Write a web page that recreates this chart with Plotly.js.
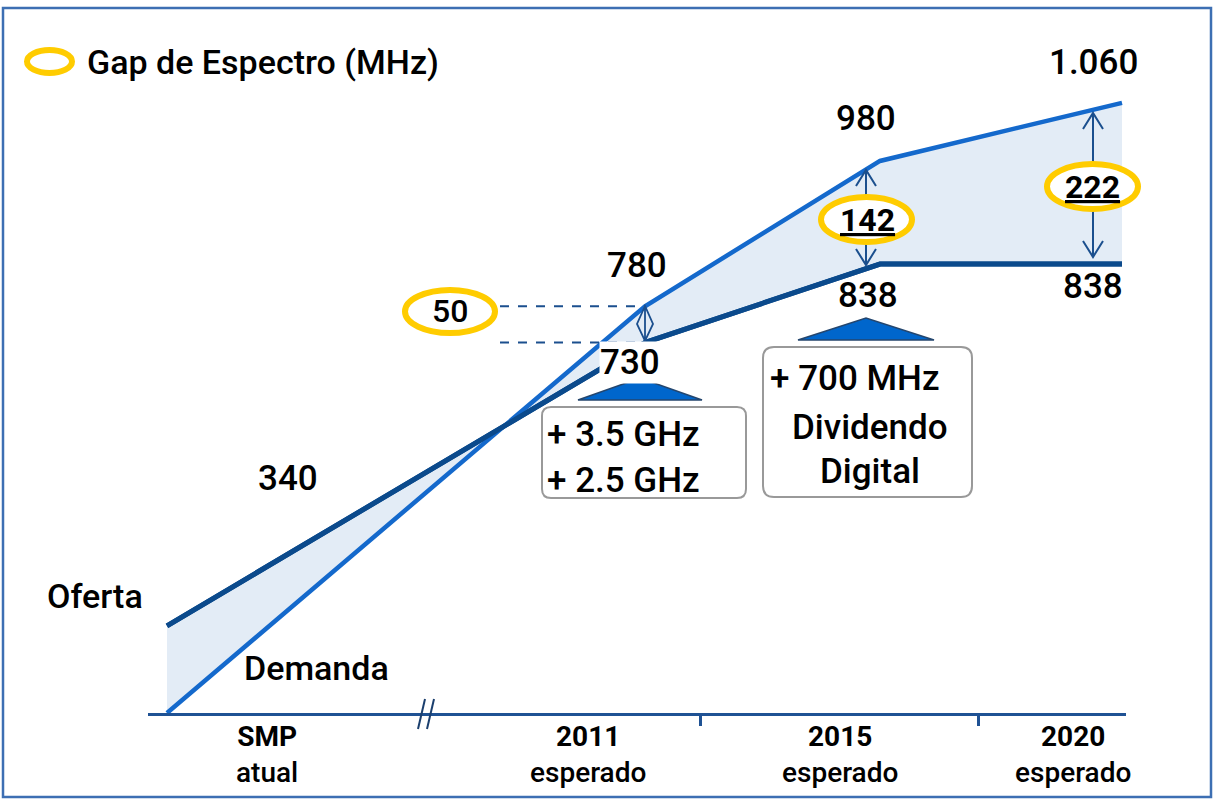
<!DOCTYPE html>
<html>
<head>
<meta charset="utf-8">
<script src="https://cdn.plot.ly/plotly-3.0.1.min.js"></script>
<style>
  body { margin: 0; background: #fff; }
  #chart { width: 1214px; height: 800px; }
</style>
</head>
<body>
<div id="chart"></div>
<script>
// pontos do esquema (posicao no eixo de tempo esquematico)
const periodos = ['SMP', '2011', '2015', '2020'];
const subtitulos = ['atual', 'esperado', 'esperado', 'esperado'];
const periodoX = [0.19, 4.97, 7.32, 9.74];
const rotuloX = [1.19, 4.40, 6.92, 9.25];
const tickX = [5.52, 8.30];
const demanda = [220, 780, 980, 1060];
const oferta = [340, 730, 838, 838];
const faixas2011 = ['+ 3.5 GHz', '+ 2.5 GHz'];
const faixas2015 = ['+ 700 MHz', 'Dividendo', 'Digital'];

const FONTE = 'Roboto, "Liberation Sans", Arial, sans-serif';
const PESO = 500;
const AZUL = '#1469CC', AZUL_ESC = '#0B4A8C', AMARELO = '#FFCC00';

// conversao pixel -> paper (so para enfeites)
const L = 148, R = 88, T = 40, B = 87, W = 1214, H = 800;
const X = px => (px - L) / (W - L - R);
const Y = py => (H - B - py) / (H - T - B);
const P = (px, py) => X(px) + ',' + Y(py);

function fmt(v) {
    return v >= 1000 ? Math.floor(v / 1000) + '.' + String(v % 1000).padStart(3, '0') : String(v);
}

function caixa(x0, y0, x1, y1, r) {
    return 'M' + P(x0 + r, y0) + ' L' + P(x1 - r, y0) + ' Q' + P(x1, y0) + ' ' + P(x1, y0 + r) +
        ' L' + P(x1, y1 - r) + ' Q' + P(x1, y1) + ' ' + P(x1 - r, y1) +
        ' L' + P(x0 + r, y1) + ' Q' + P(x0, y1) + ' ' + P(x0, y1 - r) +
        ' L' + P(x0, y0 + r) + ' Q' + P(x0, y0) + ' ' + P(x0 + r, y0) + ' Z';
}

function txt(text, px, py, size, opts) {
    return Object.assign({
        text: text, xref: 'paper', yref: 'paper', x: X(px), y: Y(py),
        xanchor: 'center', yanchor: 'middle', showarrow: false,
        font: { family: FONTE, size: size, color: '#000', weight: PESO }
    }, opts || {});
}

// rotulo de valor preso ao ponto
function rotulo(v, i, dx, dy, opts) {
    return Object.assign({
        text: fmt(v), x: periodoX[i], y: v, xref: 'x', yref: 'y',
        xshift: dx, yshift: -dy, showarrow: false,
        font: { family: FONTE, size: 35, color: '#000', weight: PESO }
    }, opts || {});
}

const traces = [
    {
        x: periodoX, y: oferta, mode: 'lines', name: 'Oferta',
        line: { color: AZUL_ESC, width: 5 }, hoverinfo: 'skip'
    },
    {
        x: periodoX, y: demanda, mode: 'lines', name: 'Demanda',
        fill: 'tonexty', fillcolor: '#E3ECF6',
        line: { color: AZUL, width: 4.5 }, hoverinfo: 'skip'
    },
    {
        x: periodoX, y: oferta, mode: 'lines', showlegend: false,
        line: { color: AZUL_ESC, width: 5 }, hoverinfo: 'skip'
    }
];

const gaps = [1, 2, 3].map(i => demanda[i] - oferta[i]);

// setas duplas (linha + pontas abertas)
function seta(px, top, bot) {
    const w = 10, h = 16, cor = '#1B4F8E';
    return [
        { type: 'line', xref: 'paper', yref: 'paper', x0: X(px), x1: X(px), y0: Y(top), y1: Y(bot), line: { color: cor, width: 2 } },
        { type: 'path', xref: 'paper', yref: 'paper', path: 'M' + P(px - w, top + h) + ' L' + P(px, top) + ' L' + P(px + w, top + h), line: { color: cor, width: 2 } },
        { type: 'path', xref: 'paper', yref: 'paper', path: 'M' + P(px - w, bot - h) + ' L' + P(px, bot) + ' L' + P(px + w, bot - h), line: { color: cor, width: 2 } }
    ];
}

function anel(x0, y0, x1, y1) {
    return { type: 'circle', xref: 'paper', yref: 'paper', x0: X(x0), x1: X(x1), y0: Y(y0), y1: Y(y1),
        line: { color: AMARELO, width: 6 }, fillcolor: '#fff' };
}

function triangulo(cx, base, topo, hw) {
    return { type: 'path', xref: 'paper', yref: 'paper',
        path: 'M' + P(cx - hw, base) + ' L' + P(cx, topo) + ' L' + P(cx + hw, base) + ' Z',
        fillcolor: '#0066CC', line: { color: '#24466E', width: 1.5 } };
}

const shapes = [
    // moldura
    { type: 'rect', xref: 'paper', yref: 'paper', x0: X(3), x1: X(1211), y0: Y(8), y1: Y(797), line: { color: '#3D6FB3', width: 2.5 } },
    // linhas tracejadas do gap de 2011
    { type: 'line', xref: 'x', yref: 'y', x0: 3.52, x1: periodoX[1], y0: demanda[1], y1: demanda[1], line: { color: '#1B4F8E', width: 2, dash: 'dash' } },
    { type: 'line', xref: 'x', yref: 'y', x0: 3.52, x1: periodoX[1], y0: oferta[1], y1: oferta[1], line: { color: '#1B4F8E', width: 2, dash: 'dash' } },
    // quebra do eixo
    { type: 'line', xref: 'paper', yref: 'paper', x0: X(418), x1: X(425), y0: Y(729), y1: Y(699), line: { color: '#1B3F6E', width: 2 } },
    { type: 'line', xref: 'paper', yref: 'paper', x0: X(427), x1: X(434), y0: Y(729), y1: Y(699), line: { color: '#1B3F6E', width: 2 } },
    // losango do gap 50
    { type: 'path', xref: 'paper', yref: 'paper', path: 'M' + P(645, 306) + ' L' + P(637, 324) + ' L' + P(645, 341) + ' L' + P(653, 324) + ' Z M' + P(645, 306) + ' L' + P(645, 341), line: { color: '#1B4F8E', width: 1.8 } },
    ...seta(866, 170, 265),
    ...seta(1093, 113, 257),
    anel(405, 290, 495, 333),
    anel(821, 197, 912, 242),
    anel(1047, 164, 1138, 209),
    anel(27, 50, 72, 73),
    triangulo(640, 400, 378, 62),
    triangulo(866, 340, 318, 68),
    { type: 'path', xref: 'paper', yref: 'paper', path: caixa(542, 407, 746, 498, 9), fillcolor: '#fff', line: { color: '#999', width: 2 } },
    { type: 'path', xref: 'paper', yref: 'paper', path: caixa(763, 347, 972, 497, 11), fillcolor: '#fff', line: { color: '#999', width: 2 } }
];

const annotations = [
    txt('Gap de Espectro (MHz)', 85, 62, 34, { xanchor: 'left' }),
    txt('Oferta', 95, 596, 34),
    txt('Demanda', 316, 668, 34),
    rotulo(oferta[0], 0, 121, -147),
    rotulo(demanda[1], 1, -8, -41),
    rotulo(oferta[1], 1, -15, 20, { bgcolor: '#fff', borderpad: 0 }),
    rotulo(demanda[2], 2, -14, -42),
    rotulo(oferta[2], 2, -12, 31),
    rotulo(demanda[3], 3, -29, -40),
    rotulo(oferta[3], 3, -29, 22),
    txt(String(gaps[0]), 450, 311, 32),
    txt('<b><u>' + gaps[1] + '</u></b>', 867, 220, 32),
    txt('<b><u>' + gaps[2] + '</u></b>', 1092, 187, 32),
    txt(faixas2011.join('<br>'), 545, 457, 35, { xanchor: 'left', align: 'left' }),
    txt(faixas2015[0], 768, 378, 35, { xanchor: 'left' }),
    txt(faixas2015[1], 870, 428, 35),
    txt(faixas2015[2], 870, 472, 35)
];

periodos.forEach((p, i) => {
    annotations.push({
        text: '<b>' + p + '</b><br>' + subtitulos[i], x: rotuloX[i], y: 0, xref: 'x', yref: 'paper',
        yanchor: 'top', yshift: -5, showarrow: false,
        font: { family: FONTE, size: 28, color: '#000', weight: PESO }
    });
});

const layout = {
    width: W, height: H,
    margin: { l: L, r: R, t: T, b: B },
    paper_bgcolor: '#fff', plot_bgcolor: 'rgba(0,0,0,0)',
    showlegend: false,
    xaxis: {
        range: [0, 9.78], showgrid: false, zeroline: false,
        showline: true, linecolor: '#1F5294', linewidth: 3,
        tickvals: tickX, ticks: 'outside', ticklen: 10, tickwidth: 3, tickcolor: '#1F5294',
        showticklabels: false, fixedrange: true
    },
    yaxis: { range: [220, 1146.5], visible: false, fixedrange: true },
    shapes: shapes,
    annotations: annotations
};

Plotly.newPlot('chart', traces, layout, { displayModeBar: false, staticPlot: true });
</script>
</body>
</html>
